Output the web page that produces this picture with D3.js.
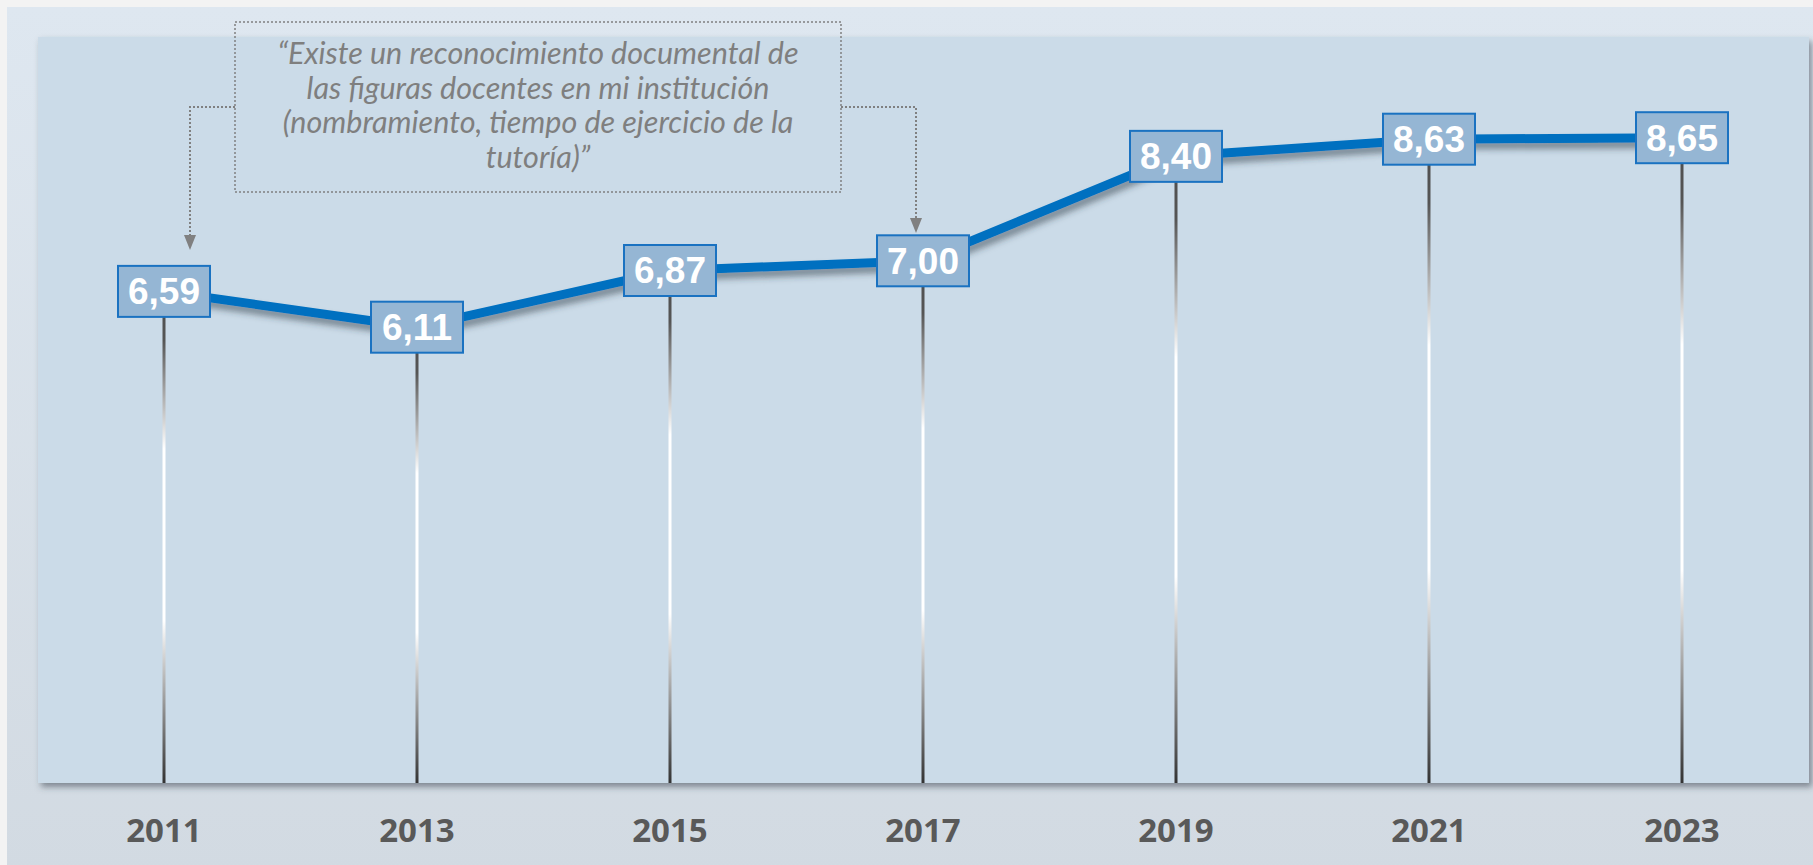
<!DOCTYPE html>
<html>
<head>
<meta charset="utf-8">
<script src="https://cdn.jsdelivr.net/npm/d3@7"></script>
<style>
  body { margin: 0; background: #f3f3f3; overflow: hidden; }
  svg { display: block; }
</style>
</head>
<body>
<div id="chart"></div>
<script>
// data
const years = ["2011", "2013", "2015", "2017", "2019", "2021", "2023"];
const values = [6.59, 6.11, 6.87, 7.00, 8.40, 8.63, 8.65];
const labels = ["6,59", "6,11", "6,87", "7,00", "8,40", "8,63", "8,65"];
const noteLines = [
    "\u201cExiste un reconocimiento documental de",
    "las figuras docentes en mi institución",
    "(nombramiento, tiempo de ejercicio de la",
    "tutoría)\u201d"
];
const noteTargets = ["2011", "2017"];

const width = 1813, height = 865;
const plot = { left: 38, top: 37, right: 1809, bottom: 783 };

const svg = d3.select("#chart")
    .append("svg")
    .attr("width", width)
    .attr("height", height);

const defs = svg.append("defs");

const bgGrad = defs.append("linearGradient")
    .attr("id", "bgGrad")
    .attr("x1", 0).attr("y1", 0).attr("x2", 0).attr("y2", 1);
bgGrad.append("stop").attr("offset", "0%").attr("stop-color", "#dee7f0");
bgGrad.append("stop").attr("offset", "100%").attr("stop-color", "#d2dae2");

const stemGrad = defs.append("linearGradient")
    .attr("id", "stemGrad")
    .attr("x1", 0).attr("y1", 0).attr("x2", 0).attr("y2", 1);
stemGrad.append("stop").attr("offset", "0%").attr("stop-color", "#4d4d4d");
stemGrad.append("stop").attr("offset", "10%").attr("stop-color", "#555555");
stemGrad.append("stop").attr("offset", "32%").attr("stop-color", "#ffffff");
stemGrad.append("stop").attr("offset", "67%").attr("stop-color", "#ffffff");
stemGrad.append("stop").attr("offset", "100%").attr("stop-color", "#333333");

const panelShadow = defs.append("filter").attr("id", "panelShadow")
    .attr("x", "-5%").attr("y", "-5%").attr("width", "110%").attr("height", "115%");
panelShadow.append("feDropShadow")
    .attr("dx", 3).attr("dy", 4).attr("stdDeviation", 3)
    .attr("flood-color", "#3a4450").attr("flood-opacity", 0.55);

const lineShadow = defs.append("filter").attr("id", "lineShadow")
    .attr("x", "-5%").attr("y", "-20%").attr("width", "110%").attr("height", "150%");
lineShadow.append("feDropShadow")
    .attr("dx", 2).attr("dy", 6).attr("stdDeviation", 3)
    .attr("flood-color", "#2c3440").attr("flood-opacity", 0.5);

// backgrounds
svg.append("rect")
    .attr("x", 7).attr("y", 7)
    .attr("width", width).attr("height", height)
    .attr("fill", "url(#bgGrad)");

svg.append("rect")
    .attr("x", plot.left).attr("y", plot.top)
    .attr("width", plot.right - plot.left).attr("height", plot.bottom - plot.top)
    .attr("fill", "#cbdbe8")
    .attr("filter", "url(#panelShadow)");

// scales
const x = d3.scalePoint().domain(years).range([164, 1682]);
const y = d3.scaleLinear().domain([0, 10]).range([plot.bottom, plot.top]);

const data = years.map((yr, i) => ({ year: yr, value: values[i], label: labels[i] }));

// stems
svg.selectAll("rect.stem")
    .data(data)
    .enter()
    .append("rect")
    .classed("stem", true)
    .attr("x", d => x(d.year) - 1.5)
    .attr("y", d => y(d.value))
    .attr("width", 3)
    .attr("height", d => y(0) - y(d.value))
    .attr("fill", "url(#stemGrad)");

// line
const line = d3.line().x(d => x(d.year)).y(d => y(d.value));
svg.append("path")
    .datum(data)
    .attr("d", line)
    .attr("fill", "none")
    .attr("stroke", "#0070c0")
    .attr("stroke-width", 9)
    .attr("stroke-linejoin", "round")
    .attr("filter", "url(#lineShadow)");

// value boxes
const boxW = 92, boxH = 51;
svg.selectAll("rect.box")
    .data(data)
    .enter()
    .append("rect")
    .classed("box", true)
    .attr("x", d => x(d.year) - boxW / 2)
    .attr("y", d => y(d.value) - boxH / 2)
    .attr("width", boxW)
    .attr("height", boxH)
    .attr("fill", "#95b6d4")
    .attr("stroke", "#1a72c1")
    .attr("stroke-width", 2);

svg.selectAll("text.value")
    .data(data)
    .enter()
    .append("text")
    .classed("value", true)
    .attr("x", d => x(d.year))
    .attr("y", d => y(d.value))
    .attr("dy", 13)
    .attr("text-anchor", "middle")
    .attr("font-family", "'Liberation Sans', Arial, sans-serif")
    .attr("font-weight", "bold")
    .attr("font-size", 37)
    .attr("fill", "#ffffff")
    .text(d => d.label);

// year labels
svg.selectAll("text.year")
    .data(years)
    .enter()
    .append("text")
    .classed("year", true)
    .attr("x", d => x(d))
    .attr("y", 842)
    .attr("text-anchor", "middle")
    .attr("font-family", "'Open Sans', sans-serif")
    .attr("font-weight", "bold")
    .attr("font-size", 33)
    .attr("fill", "#595959")
    .text(d => d);

// annotation
const note = { x: 235, y: 22, w: 606, h: 170 };
const noteG = svg.append("g");
noteG.append("rect")
    .attr("x", note.x).attr("y", note.y)
    .attr("width", note.w).attr("height", note.h)
    .attr("fill", "none")
    .attr("stroke", "#808080")
    .attr("stroke-width", 1.5)
    .attr("stroke-dasharray", "2,2");

noteG.selectAll("text")
    .data(noteLines)
    .enter()
    .append("text")
    .attr("x", note.x + note.w / 2)
    .attr("y", (d, i) => 64 + i * 34.7)
    .attr("text-anchor", "middle")
    .attr("font-family", "Lato, sans-serif")
    .attr("font-style", "italic")
    .attr("font-size", 30.5)
    .attr("fill", "#7f7f7f")
    .text(d => d);

// connectors to the 2011 and 2017 labels
const connY = 107;
const conn = [
    { from: note.x, ax: x(noteTargets[0]) + 26, tip: 250 },
    { from: note.x + note.w, ax: x(noteTargets[1]) - 7, tip: 233 }
];
noteG.selectAll("path.conn")
    .data(conn)
    .enter()
    .append("path")
    .classed("conn", true)
    .attr("d", d => `M${d.from},${connY}H${d.ax}V${d.tip - 12}`)
    .attr("fill", "none")
    .attr("stroke", "#808080")
    .attr("stroke-width", 2)
    .attr("stroke-dasharray", "2,2");

noteG.selectAll("path.head")
    .data(conn)
    .enter()
    .append("path")
    .classed("head", true)
    .attr("d", d => `M${d.ax - 6},${d.tip - 15}L${d.ax + 6},${d.tip - 15}L${d.ax},${d.tip}Z`)
    .attr("fill", "#808080");
</script>
</body>
</html>
